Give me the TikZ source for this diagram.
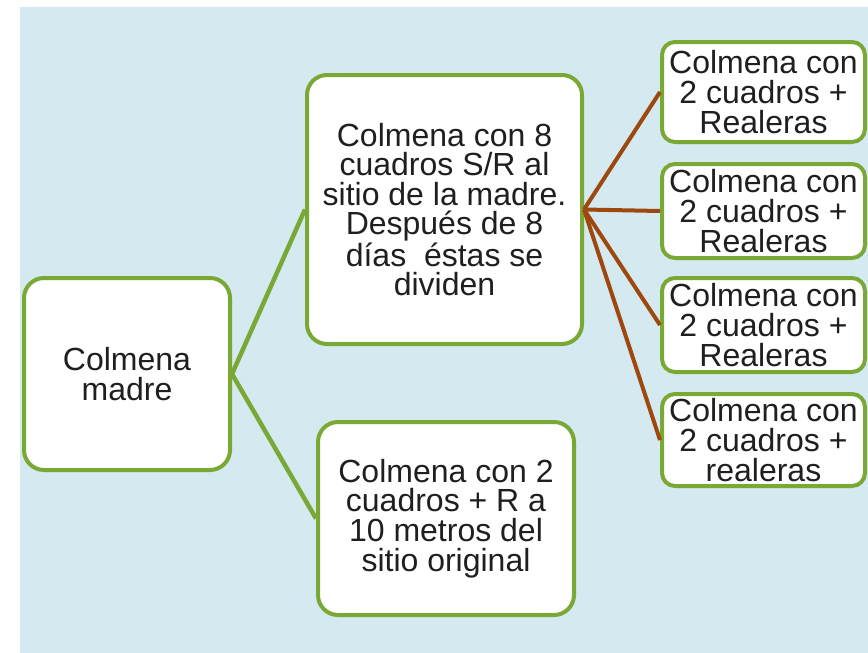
\documentclass[tikz,border=0pt]{standalone}
\usepackage{fontspec}
\setmainfont{Liberation Sans}
\usepackage{tikz}

\definecolor{fondo}{RGB}{212,233,240}
\definecolor{verde}{RGB}{122,168,52}
\definecolor{cafe}{RGB}{158,72,14}

\tikzset{
  caja/.style={draw=verde, line width=4pt, fill=white, rounded corners=20pt,
    align=center, inner sep=0pt, text=black!88,
    font=\fontsize{32}{29.6}\selectfont},
  cajita/.style={caja, rounded corners=13pt, minimum width=203pt},
  rama/.style={verde, line width=4.5pt},
  hoja/.style={cafe, line width=4pt}
}

\begin{document}
\begin{tikzpicture}[x=1pt, y=-1pt]
   % fondo
    \useasboundingbox (0,0) rectangle (868,653);
    \fill[white] (0,0) rectangle (868,653);
    \fill[fondo] (20,7) rectangle (868,653);

   % cajas
    \node[caja, minimum width=206pt, minimum height=192pt] (madre) at (127,374) {Colmena\\madre};
    \node[caja, minimum width=275pt, minimum height=269pt] (arriba) at (444.5,209.5)
        {Colmena con 8\\cuadros S/R al\\sitio de la madre.\\Despu\'es de 8\\d\'ias\ \ \'estas se\\dividen};
    \node[caja, minimum width=256pt, minimum height=193pt] (abajo) at (446,518.5)
        {Colmena con 2\\cuadros + R a\\10 metros del\\sitio original};

    \node[cajita, minimum height=100pt] (r1) at (763.5,92) {Colmena con\\2 cuadros +\\Realeras};
    \node[cajita, minimum height=94pt] (r2) at (763.5,211) {Colmena con\\2 cuadros +\\Realeras};
    \node[cajita, minimum height=94pt] (r3) at (763.5,325) {Colmena con\\2 cuadros +\\Realeras};
    \node[cajita, minimum height=92pt] (r4) at (763.5,440) {Colmena con\\2 cuadros +\\realeras};

   % conexiones
    \draw[rama] (madre.east) -- (arriba.west);
    \draw[rama] (madre.east) -- (abajo.west);
    \foreach \r in {r1,r2,r3,r4}
        \draw[hoja] (arriba.east) -- (\r.west);

\end{tikzpicture}
\end{document}
